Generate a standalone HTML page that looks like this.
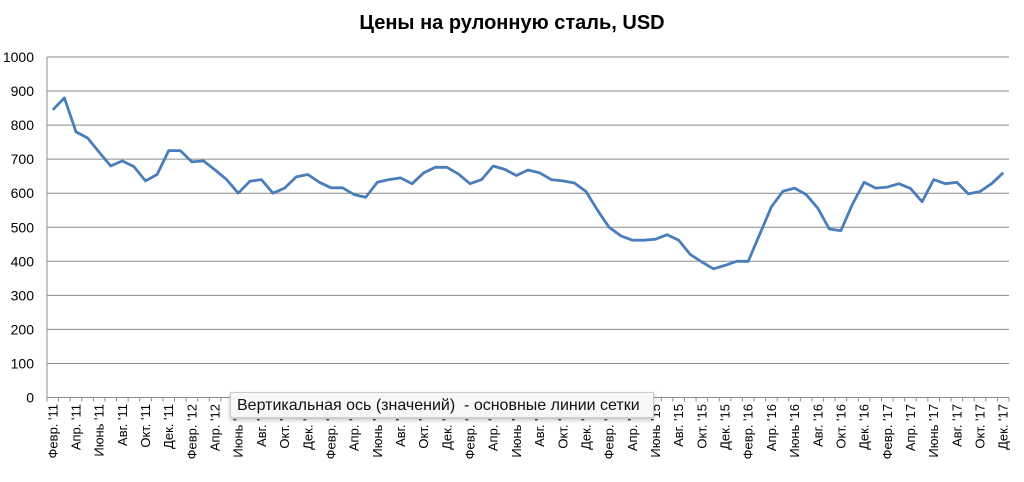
<!DOCTYPE html>
<html><head><meta charset="utf-8"><style>
body{margin:0;background:#fff;width:1024px;height:477px;overflow:hidden;position:relative;font-family:"Liberation Sans",sans-serif}
#tip{position:absolute;left:230px;top:392px;width:424px;height:26px;background:#f7f7f7;border:1px solid #ccc;box-shadow:0 2px 4px rgba(0,0,0,.25);font-size:16px;line-height:26px;padding-left:6px;box-sizing:border-box;color:#111;white-space:pre}
</style></head><body>
<svg id="s" width="1024" height="477" xmlns="http://www.w3.org/2000/svg"></svg>
<div id="tip">Вертикальная ось (значений)  - основные линии сетки</div>
<script>
const d=[845,880,780,762,720,680,695,678,636,655,725,
725,692,695,668,640,600,635,640,600,615,648,655,
632,616,616,596,588,632,640,645,628,660,676,676,
656,628,640,680,670,652,668,660,640,636,630,605,
550,500,475,462,462,465,478,462,420,398,378,388,
400,400,480,560,606,615,596,556,495,490,568,632,
615,618,628,614,575,640,628,632,598,605,628,660];
const m=["Янв.","Февр.","Март","Апр.","Май","Июнь","Июль","Авг.","Сент.","Окт.","Нояб.","Дек."];
const L=47,R=1009,T=57,B=397.5,n=83,w=(R-L)/n;
const Y=v=>B-(B-T)*v/1000;
let s=`<text x="512" y="29" text-anchor="middle" font-size="20" font-weight="bold" font-family="Liberation Sans,sans-serif">Цены на рулонную сталь, USD</text>`;
for(let v=0;v<=1000;v+=100){const y=Y(v);
 if(v>0)s+=`<line x1="${L}" x2="${R}" y1="${y}" y2="${y}" stroke="#8c8c8c" stroke-width="1"/>`;
 s+=`<text x="34" y="${y+5}" text-anchor="end" font-size="14" font-family="Liberation Sans,sans-serif">${v}</text>`;}
s+=`<line x1="${L}" x2="${L}" y1="${T}" y2="${B}" stroke="#8c8c8c"/><line x1="${L}" x2="${R}" y1="${B}" y2="${B}" stroke="#8c8c8c"/>`;
for(let i=0;i<=n;i++){const x=L+i*w;s+=`<line x1="${x}" x2="${x}" y1="${B}" y2="${B+4}" stroke="#8c8c8c"/>`;}
let p="";
for(let i=0;i<n;i++){const x=L+w*(i+.5);p+=(i?"L":"M")+x.toFixed(1)+","+Y(d[i]).toFixed(1);
 if(i%2==0){const mi=(i+1)%12,yr=11+Math.floor((i+1)/12);
  s+=`<text transform="translate(${x+4.5},404) rotate(-90)" text-anchor="end" font-size="13" font-family="Liberation Sans,sans-serif">${m[mi]} '${yr}</text>`;}}
s+=`<path d="${p}" fill="none" stroke="#4a7ebb" stroke-width="2.8" stroke-linejoin="round"/>`;
document.getElementById("s").innerHTML=s;
</script>
</body></html>
